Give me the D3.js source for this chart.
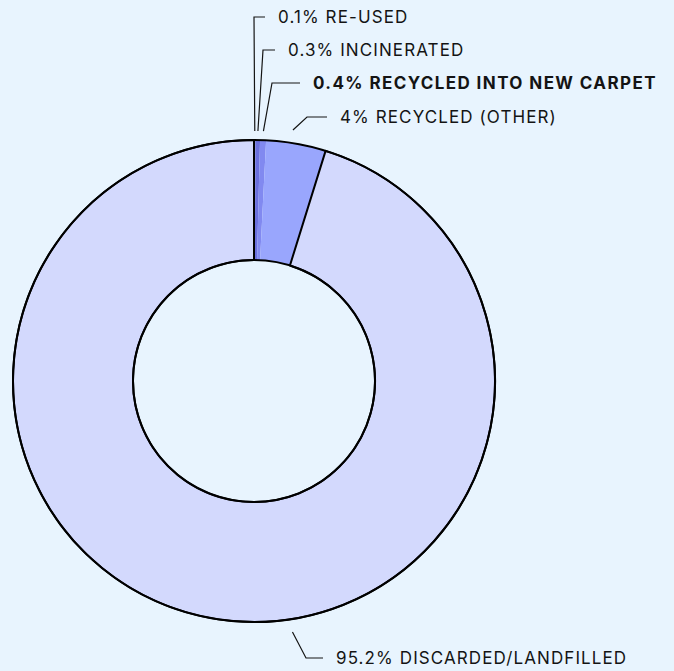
<!DOCTYPE html>
<html>
<head>
<meta charset="utf-8">
<script src="https://cdn.jsdelivr.net/npm/d3@7"></script>
<style>
  html, body { margin: 0; padding: 0; background: #e8f4fe; }
  svg { display: block; }
  text { font-family: Inter, "Noto Sans", sans-serif; fill: #141414; }
</style>
</head>
<body>
<svg id="chart"></svg>
<script>
// chart data
const categories = ["RE-USED", "INCINERATED", "RECYCLED INTO NEW CARPET", "RECYCLED (OTHER)", "DISCARDED/LANDFILLED"];
const values = [0.1, 0.3, 0.4, 4, 95.2];
const valueLabels = ["0.1%", "0.3%", "0.4%", "4%", "95.2%"];
const highlighted = ["RECYCLED INTO NEW CARPET"];

const colors = ["#4c50c6", "#6b70de", "#8189f0", "#99a6fd", "#d3d9fd"];

// label placement (annotation layout)
const labelY = [17, 50, 83, 117, 658];
const elbowX = [254, 263, 272, 307, 306];
const lineEndX = [265, 275, 300, 327, 323];
const anchorAngle = [null, null, null, 0.154, Math.PI - 0.152];

const width = 674, height = 671;
const cx = 254, cy = 381;
const outerR = 241, innerR = 121;

const svg = d3.select('#chart')
  .attr('width', width)
  .attr('height', height);

const g = svg.append('g')
  .attr('transform', `translate(${cx}, ${cy})`);

const pie = d3.pie()
  .value(d => d)
  .sort(null);

const arcs = pie(values);

const arc = d3.arc()
  .innerRadius(innerR)
  .outerRadius(outerR);

const maxValue = d3.max(values);

g.selectAll('path.slice')
  .data(arcs)
  .enter()
  .append('path')
  .attr('class', 'slice')
  .attr('d', arc)
  .attr('fill', (d, i) => colors[i])
  .attr('stroke', (d, i) => values[i] === maxValue ? '#000' : 'none')
  .attr('stroke-width', 2)
  .attr('stroke-linejoin', 'round');

// outline of the ring
g.append('circle').attr('r', outerR).attr('fill', 'none').attr('stroke', '#000').attr('stroke-width', 2);
g.append('circle').attr('r', innerR).attr('fill', 'none').attr('stroke', '#000').attr('stroke-width', 2);

// leader lines
const lineR = 250;
arcs.forEach((d, i) => {
  const a = anchorAngle[i] !== null ? anchorAngle[i] : (d.startAngle + d.endAngle) / 2;
  const r = anchorAngle[i] !== null ? 254 : lineR;
  const sx = Math.sin(a) * r + cx;
  const sy = -Math.cos(a) * r + cy;
  const ly = labelY[i];
  const bold = highlighted.includes(categories[i]);
  svg.append('polyline')
    .attr('points', `${sx},${sy} ${elbowX[i]},${ly} ${lineEndX[i]},${ly}`)
    .attr('fill', 'none')
    .attr('stroke', '#141414')
    .attr('stroke-width', 1.2);

  svg.append('text')
    .attr('x', lineEndX[i] + 13)
    .attr('y', ly)
    .attr('dy', '0.36em')
    .attr('font-size', 17)
    .attr('letter-spacing', bold ? 1.4 : 1.1)
    .attr('font-weight', bold ? 700 : 400)
    .text(`${valueLabels[i]} ${categories[i]}`);
});
</script>
</body>
</html>
